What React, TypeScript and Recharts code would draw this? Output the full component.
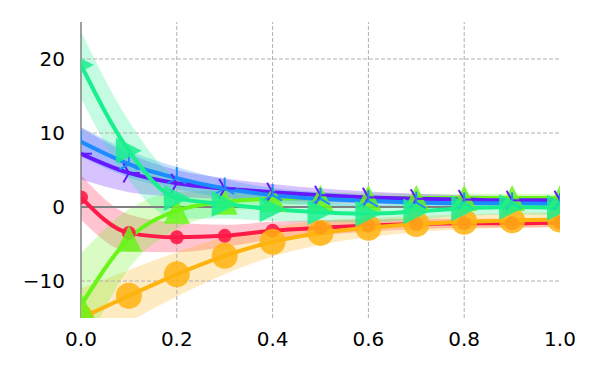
import React from "react"
import {
  ComposedChart,
  Line,
  Area,
  XAxis,
  YAxis,
  ReferenceLine,
} from "recharts"

// x positions shared by every series
const xValues = [0, 0.1, 0.2, 0.3, 0.4, 0.5, 0.6, 0.7, 0.8, 0.9, 1.0]

// series means and half-widths of their shaded bands
const tealMean = [19.2, 7.6, 1.2, 0.4, -0.3, -0.7, -0.9, -0.6, -0.2, 0.0, -0.1]
const tealSpread = [4.5, 4, 2.8, 2, 1.6, 1.3, 1.2, 1.1, 1, 1, 1]
const purpleMean = [7.2, 4.6, 3.2, 2.5, 2.0, 1.6, 1.3, 1.1, 1.0, 0.9, 0.9]
const purpleSpread = [3.5, 2.6, 1.8, 1.4, 1.1, 0.9, 0.8, 0.7, 0.6, 0.6, 0.6]
const blueMean = [8.8, 5.8, 3.9, 2.5, 1.6, 1.1, 0.8, 0.6, 0.5, 0.5, 0.4]
const blueSpread = [2, 1.8, 1.5, 1.2, 1, 0.9, 0.8, 0.7, 0.7, 0.7, 0.7]
const redMean = [1.3, -3.5, -4.1, -3.9, -3.2, -2.8, -2.5, -2.3, -2.2, -2.2, -2.1]
const redSpread = [3, 2.5, 2, 1.5, 1.2, 1, 0.8, 0.7, 0.6, 0.6, 0.6]
const greenMean = [-13.3, -4.3, -0.5, 0.7, 1.1, 1.2, 1.2, 1.2, 1.2, 1.2, 1.2]
const greenSpread = [7, 4, 2.5, 1.5, 1, 0.8, 0.7, 0.6, 0.6, 0.6, 0.6]
const orangeMean = [-15, -12, -9.1, -6.6, -4.7, -3.5, -2.8, -2.3, -2.0, -1.8, -1.7]
const orangeSpread = [4, 3.5, 3, 2.5, 2, 1.6, 1.3, 1.1, 1, 1, 1]

const xTicks = [0, 0.2, 0.4, 0.6, 0.8, 1.0]
const yTicks = [-10, 0, 10, 20]
const xGrid = [0.2, 0.4, 0.6, 0.8]
const yGrid = [-10, 10, 20]

// drawing order: first in list is drawn lowest
const series = [
  { key: "red", mean: redMean, spread: redSpread, color: "#ff1a47", marker: "smallCircle" },
  { key: "orange", mean: orangeMean, spread: orangeSpread, color: "#ffb30f", marker: "bigCircle" },
  { key: "green", mean: greenMean, spread: greenSpread, color: "#6af51a", marker: "triUp" },
  { key: "purple", mean: purpleMean, spread: purpleSpread, color: "#6619ff", marker: "tri4" },
  { key: "blue", mean: blueMean, spread: blueSpread, color: "#1a8cff", marker: "tri2" },
  { key: "teal", mean: tealMean, spread: tealSpread, color: "#1aef8e", marker: "triRight" },
]

const data = xValues.map((x, i) => {
  const row: Record<string, any> = { x }
  series.forEach((s) => {
    row[s.key] = s.mean[i]
    row[s.key + "Band"] = [s.mean[i] - s.spread[i], s.mean[i] + s.spread[i]]
  })
  return row
})

function makeDot(kind: string, color: string) {
  return (props: any) => {
    const { cx, cy, index } = props
    if (cx == null || cy == null) return <g key={index} />
    const r = 13
    if (kind === "triRight") {
      return (
        <polygon key={index} points={`${cx + r},${cy} ${cx - r},${cy - r} ${cx - r},${cy + r}`}
          fill={color} fillOpacity={0.85} />
      )
    }
    if (kind === "triUp") {
      return (
        <polygon key={index} points={`${cx},${cy - r} ${cx - r},${cy + r} ${cx + r},${cy + r}`}
          fill={color} fillOpacity={0.85} />
      )
    }
    if (kind === "smallCircle") {
      return <circle key={index} cx={cx} cy={cy} r={7} fill={color} fillOpacity={0.9} />
    }
    if (kind === "bigCircle") {
      return <circle key={index} cx={cx} cy={cy} r={13} fill={color} fillOpacity={0.85} />
    }
    // tri markers (thin arms from the centre)
    const a = 11
    const arms =
      kind === "tri4"
        ? [[a, 0], [-0.5 * a, 0.866 * a], [-0.5 * a, -0.866 * a]]
        : [[0, -a], [-0.866 * a, 0.5 * a], [0.866 * a, 0.5 * a]]
    return (
      <g key={index}>
        {arms.map(([dx, dy], j) => (
          <line key={j} x1={cx} y1={cy} x2={cx + dx} y2={cy + dy} stroke={color} strokeWidth={2} />
        ))}
      </g>
    )
  }
}

const tickStyle = { fontFamily: "DejaVu Sans", fontSize: 20, fill: "#000" }

export default function App() {
  return (
    <div style={{ position: "absolute", left: 0, top: 0, background: "#fff" }}>
      <ComposedChart width={600} height={375} data={data}
        margin={{ top: 22, right: 40, left: 0, bottom: 0 }}>
        <XAxis dataKey="x" type="number" domain={[0, 1]} ticks={xTicks} allowDataOverflow
          tickFormatter={(v) => v.toFixed(1)} axisLine={false} tickLine={false}
          tickSize={0} tickMargin={14} height={57} tick={tickStyle} />
        <YAxis type="number" domain={[-15, 25]} ticks={yTicks} allowDataOverflow
          axisLine={{ stroke: "#808080", strokeWidth: 1.5 }} tickLine={false}
          tickSize={0} tickMargin={16} width={81} tick={tickStyle}
          tickFormatter={(v) => (v < 0 ? "\u2212" + Math.abs(v) : String(v))} />
        {xGrid.map((v) => (
          <ReferenceLine key={"gx" + v} x={v} stroke="#b0b0b0" strokeDasharray="4 2" />
        ))}
        {yGrid.map((v) => (
          <ReferenceLine key={"gy" + v} y={v} stroke="#b0b0b0" strokeDasharray="4 2" />
        ))}
        <ReferenceLine y={0} stroke="#808080" strokeWidth={2} />
        {series.map((s) => (
          <Area key={s.key + "Band"} dataKey={s.key + "Band"} type="monotone" stroke="none"
            fill={s.color} fillOpacity={0.26} isAnimationActive={false} />
        ))}
        {series.map((s) => (
          <Line key={s.key} dataKey={s.key} type="monotone" stroke={s.color} strokeWidth={4}
            dot={makeDot(s.marker, s.color)} activeDot={false} isAnimationActive={false} />
        ))}
      </ComposedChart>
    </div>
  )
}
